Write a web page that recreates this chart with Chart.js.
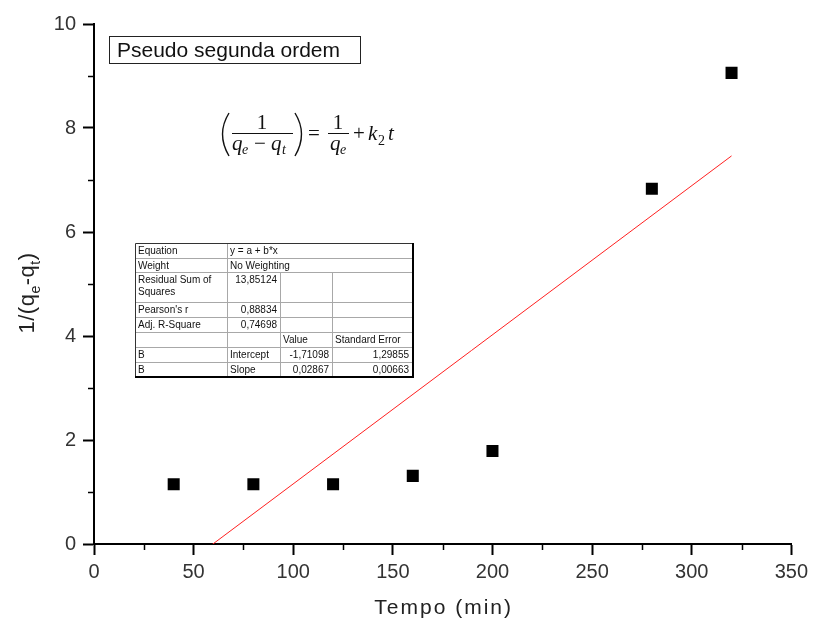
<!DOCTYPE html>
<html>
<head>
<meta charset="utf-8">
<title>Pseudo segunda ordem</title>
<script src="https://cdn.jsdelivr.net/npm/chart.js@4.4.0/dist/chart.umd.min.js"></script>
<style>
  html, body { margin: 0; padding: 0; background: #fff; }
  #wrap { width: 813px; height: 621px; }
</style>
</head>
<body>
<div id="wrap"><canvas id="grafico" width="813" height="621"></canvas></div>
<script>
// dados experimentais
const tempo = [40, 80, 120, 160, 200, 280, 320];
const inversoQ = [1.15, 1.15, 1.15, 1.31, 1.79, 6.83, 9.06];

// ajuste linear (y = a + b*x)
const fitIntercept = -1.71098;
const fitSlope = 0.02867;
const fitRange = [40, 320];

const minorX = [25, 75, 125, 175, 225, 275, 325];
const minorY = [1, 3, 5, 7, 9];

// tabela de resultados do ajuste
const tabelaLinhas = [
  ['Equation', 'y = a + b*x', null, null],
  ['Weight', 'No Weighting', null, null],
  [['Residual Sum of', 'Squares'], '13,85124', '', ''],
  ["Pearson's r", '0,88834', '', ''],
  ['Adj. R-Square', '0,74698', '', ''],
  ['', '', 'Value', 'Standard Error'],
  ['B', 'Intercept', '-1,71098', '1,29855'],
  ['B', 'Slope', '0,02867', '0,00663']
];

const fitLine = fitRange.map(x => ({ x, y: fitIntercept + fitSlope * x }));
const pontos = tempo.map((x, i) => ({ x, y: inversoQ[i] }));

const FONT = 'Arial, "Liberation Sans", sans-serif';
const SERIF = '"Liberation Serif", "DejaVu Serif", serif';

// ticks menores, título, equação e tabela
const extras = {
  id: 'extras',
  afterDraw(chart) {
    const ctx = chart.ctx;
    const xs = chart.scales.x, ys = chart.scales.y;
    const area = chart.chartArea;

    ctx.save();
    ctx.strokeStyle = '#000';
    ctx.lineWidth = 1.5;
    minorX.forEach(v => {
      const px = Math.round(xs.getPixelForValue(v)) + 0.5;
      ctx.beginPath(); ctx.moveTo(px, area.bottom); ctx.lineTo(px, area.bottom + 6); ctx.stroke();
    });
    minorY.forEach(v => {
      const py = Math.round(ys.getPixelForValue(v)) + 0.5;
      ctx.beginPath(); ctx.moveTo(area.left, py); ctx.lineTo(area.left - 6, py); ctx.stroke();
    });

    // títulos dos eixos
    ctx.fillStyle = '#222';
    ctx.font = '21px ' + FONT;
    ctx.letterSpacing = '2px';
    ctx.textAlign = 'center';
    ctx.textBaseline = 'alphabetic';
    ctx.fillText('Tempo (min)', (area.left + area.right) / 2 + 1, 614);
    ctx.letterSpacing = '0.5px';

    const partes = [
      ['1/(q', 22, 0], ['e', 14, 6], ['-q', 22, 0], ['t', 14, 6], [')', 22, 0]
    ];
    let total = 0;
    partes.forEach(p => { ctx.font = p[1] + 'px ' + FONT; total += ctx.measureText(p[0]).width; });
    ctx.translate(34, 293);
    ctx.rotate(-Math.PI / 2);
    ctx.textAlign = 'left';
    let cx = -total / 2;
    partes.forEach(p => {
      ctx.font = p[1] + 'px ' + FONT;
      ctx.fillText(p[0], cx, p[2]);
      cx += ctx.measureText(p[0]).width;
    });
    ctx.restore();

    // caixa do título
    ctx.save();
    ctx.strokeStyle = '#222';
    ctx.lineWidth = 1;
    ctx.strokeRect(109.5, 36.5, 251, 27);
    ctx.fillStyle = '#111';
    ctx.font = '21px ' + FONT;
    ctx.textBaseline = 'alphabetic';
    ctx.textAlign = 'left';
    ctx.fillText('Pseudo segunda ordem', 117, 57);
    ctx.restore();

    drawEquacao(ctx);
    drawTabela(ctx);
  }
};

function drawEquacao(ctx) {
  ctx.save();
  ctx.fillStyle = '#111';
  ctx.strokeStyle = '#111';
  ctx.textAlign = 'left';
  ctx.textBaseline = 'alphabetic';
  const reg = '21px ' + SERIF, ita = 'italic 21px ' + SERIF, sub = 'italic 14px ' + SERIF;

  // parênteses
  ctx.lineWidth = 1.4;
  ctx.beginPath(); ctx.moveTo(229, 113); ctx.quadraticCurveTo(216, 134, 229, 156); ctx.stroke();
  ctx.beginPath(); ctx.moveTo(295, 113); ctx.quadraticCurveTo(308, 134, 295, 156); ctx.stroke();

  // primeira fração
  ctx.font = reg; ctx.textAlign = 'center';
  ctx.fillText('1', 262, 129);
  ctx.lineWidth = 1;
  ctx.beginPath(); ctx.moveTo(232, 133.5); ctx.lineTo(293, 133.5); ctx.stroke();
  ctx.textAlign = 'left';
  ctx.font = ita; ctx.fillText('q', 232, 150);
  ctx.font = sub; ctx.fillText('e', 242, 154);
  ctx.font = reg; ctx.fillText('\u2212', 254, 150);
  ctx.font = ita; ctx.fillText('q', 271, 150);
  ctx.font = sub; ctx.fillText('t', 282, 154);

  // = 1/qe + k2 t
  ctx.font = reg; ctx.fillText('=', 308, 140);
  ctx.textAlign = 'center';
  ctx.fillText('1', 338, 129);
  ctx.beginPath(); ctx.moveTo(328, 133.5); ctx.lineTo(349, 133.5); ctx.stroke();
  ctx.textAlign = 'left';
  ctx.font = ita; ctx.fillText('q', 330, 150);
  ctx.font = sub; ctx.fillText('e', 340, 154);
  ctx.font = reg; ctx.fillText('+', 353, 140);
  ctx.font = ita; ctx.fillText('k', 368, 140);
  ctx.font = '14px ' + SERIF; ctx.fillText('2', 378, 145);
  ctx.font = ita; ctx.fillText('t', 388, 140);
  ctx.restore();
}

function drawTabela(ctx) {
  const colX = [135, 227, 280, 332, 412];
  const rowY = [243, 258, 272, 302, 317, 332, 347, 362, 376];
  ctx.save();
  ctx.fillStyle = '#fff';
  ctx.fillRect(colX[0], rowY[0], colX[4] - colX[0], rowY[8] - rowY[0]);

  // linhas internas
  ctx.strokeStyle = '#a8a8a8';
  ctx.lineWidth = 1;
  for (let r = 1; r < 8; r++) {
    ctx.beginPath(); ctx.moveTo(colX[0], rowY[r] + 0.5); ctx.lineTo(colX[4], rowY[r] + 0.5); ctx.stroke();
  }
  ctx.beginPath(); ctx.moveTo(colX[1] + 0.5, rowY[0]); ctx.lineTo(colX[1] + 0.5, rowY[8]); ctx.stroke();
  [colX[2], colX[3]].forEach(x => {
    ctx.beginPath(); ctx.moveTo(x + 0.5, rowY[2]); ctx.lineTo(x + 0.5, rowY[8]); ctx.stroke();
  });

  // borda externa
  ctx.strokeStyle = '#333';
  ctx.beginPath();
  ctx.moveTo(colX[0] + 0.5, rowY[8]); ctx.lineTo(colX[0] + 0.5, rowY[0] + 0.5); ctx.lineTo(colX[4], rowY[0] + 0.5);
  ctx.stroke();
  ctx.strokeStyle = '#000';
  ctx.lineWidth = 2;
  ctx.beginPath();
  ctx.moveTo(colX[4] + 1, rowY[0]); ctx.lineTo(colX[4] + 1, rowY[8] + 1); ctx.lineTo(colX[0], rowY[8] + 1);
  ctx.stroke();

  ctx.fillStyle = '#111';
  ctx.font = '10px ' + FONT;
  ctx.textBaseline = 'alphabetic';
  tabelaLinhas.forEach((linha, r) => {
    const base = rowY[r] + 11;
    linha.forEach((cel, c) => {
      if (cel === null || cel === '') return;
      const numerico = /^-?\d/.test(cel) && c > 0 && r > 1;
      if (Array.isArray(cel)) {
        ctx.textAlign = 'left';
        cel.forEach((t, k) => ctx.fillText(t, colX[c] + 3, base + k * 12));
      } else if (numerico) {
        ctx.textAlign = 'right';
        ctx.fillText(cel, colX[c + 1] - 3, base);
      } else {
        ctx.textAlign = 'left';
        ctx.fillText(cel, colX[c] + 3, base);
      }
    });
  });
  ctx.restore();
}

new Chart(document.getElementById('grafico'), {
  type: 'scatter',
  data: {
    datasets: [
      {
        label: 'Ajuste linear',
        data: fitLine,
        showLine: true,
        borderColor: '#ff2020',
        borderWidth: 1,
        pointRadius: 0,
        fill: false
      },
      {
        label: '1/(qe-qt)',
        data: pontos,
        pointStyle: 'rect',
        pointRadius: 8.5,
        pointBackgroundColor: '#000',
        pointBorderWidth: 0,
        showLine: false
      }
    ]
  },
  options: {
    responsive: false,
    animation: false,
    layout: { padding: { top: 24, right: 20, left: 0, bottom: 0 } },
    plugins: { legend: { display: false }, tooltip: { enabled: false } },
    scales: {
      x: {
        type: 'linear', min: 0, max: 350,
        ticks: { stepSize: 50, color: '#333', padding: 5, font: { family: FONT, size: 20 } },
        grid: { drawOnChartArea: false, drawTicks: true, tickLength: 11, tickWidth: 2, tickColor: '#000' },
        border: { color: '#000', width: 2 },
        afterFit(s) { s.height = 77; }
      },
      y: {
        min: 0, max: 10,
        ticks: { stepSize: 2, color: '#333', padding: 7, font: { family: FONT, size: 20 } },
        grid: { drawOnChartArea: false, drawTicks: true, tickLength: 11, tickWidth: 2, tickColor: '#000' },
        border: { color: '#000', width: 2 },
        afterFit(s) { s.width = 94; }
      }
    }
  },
  plugins: [extras]
});
</script>
</body>
</html>
